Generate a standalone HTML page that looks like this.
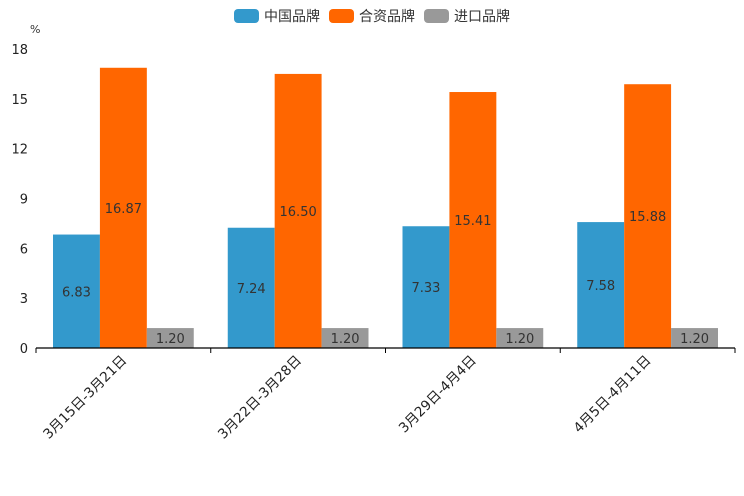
<!DOCTYPE html>
<html><head><meta charset="utf-8"><style>
body{margin:0;background:#fff;}
svg{display:block;font-family:"DejaVu Sans","Liberation Sans","Noto Sans CJK SC",sans-serif;}
</style></head><body>
<svg id="c" width="744" height="496">
<g>
<g><rect x="234" y="9" width="25" height="14" rx="4" fill="#3399cc"/><text x="264" y="21" font-size="14" fill="#333">中国品牌</text></g>
<g><rect x="329" y="9" width="25" height="14" rx="4" fill="#ff6600"/><text x="359" y="21" font-size="14" fill="#333">合资品牌</text></g>
<g><rect x="424" y="9" width="25" height="14" rx="4" fill="#999999"/><text x="454" y="21" font-size="14" fill="#333">进口品牌</text></g>
</g>
<text x="30" y="33" font-size="11" fill="#333">%</text>
</svg>
<script>
const categories=["3月15日-3月21日","3月22日-3月28日","3月29日-4月4日","4月5日-4月11日"];
const china=[6.83,7.24,7.33,7.58];
const jv=[16.87,16.50,15.41,15.88];
const imp=[1.20,1.20,1.20,1.20];
const yTicks=[0,3,6,9,12,15,18];
const svg=document.getElementById('c');
const NS='http://www.w3.org/2000/svg';
const x0=36,x1=735,yB=348,yT=49,yMax=18;
const y=v=>yB-(yB-yT)*v/yMax;
const bw=(x1-x0)/categories.length;
function mk(t,a){const e=document.createElementNS(NS,t);for(const k in a)e.setAttribute(k,a[k]);svg.appendChild(e);return e;}
yTicks.forEach(t=>{const e=mk('text',{x:28,y:y(t)+5,'font-size':13,fill:'#222','text-anchor':'end'});e.textContent=t;

});
const series=[[china,'#3399cc','china'],[jv,'#ff6600','jv'],[imp,'#999999','import']];
const pad=17,w=(bw-2*pad)/3;
categories.forEach((c,i)=>{
 series.forEach((s,j)=>{
  const v=s[0][i],bx=x0+i*bw+pad+j*w;
  const r=mk('rect',{x:bx,y:y(v),width:w,height:yB-y(v),fill:s[1]});
  
  
  const t=mk('text',{x:bx+w/2,y:(y(v)+yB)/2+5,'font-size':13,fill:'#333','text-anchor':'middle'});
  t.textContent=v.toFixed(2);
  
  
 });
 const cx=x0+i*bw+bw/2;
 const l=mk('text',{x:0,y:0,'font-size':13.6,fill:'#222','text-anchor':'end',transform:`translate(${cx+4},${yB+13}) rotate(-45)`});
 l.textContent=c;
 
 
});
const ax=mk('line',{x1:x0,y1:yB,x2:x1,y2:yB,stroke:'#000','stroke-width':1.2});


for(let i=0;i<=categories.length;i++){const tk=mk('line',{x1:x0+i*bw,y1:yB,x2:x0+i*bw,y2:yB+5,stroke:'#000'});

}
</script>
</body></html>
